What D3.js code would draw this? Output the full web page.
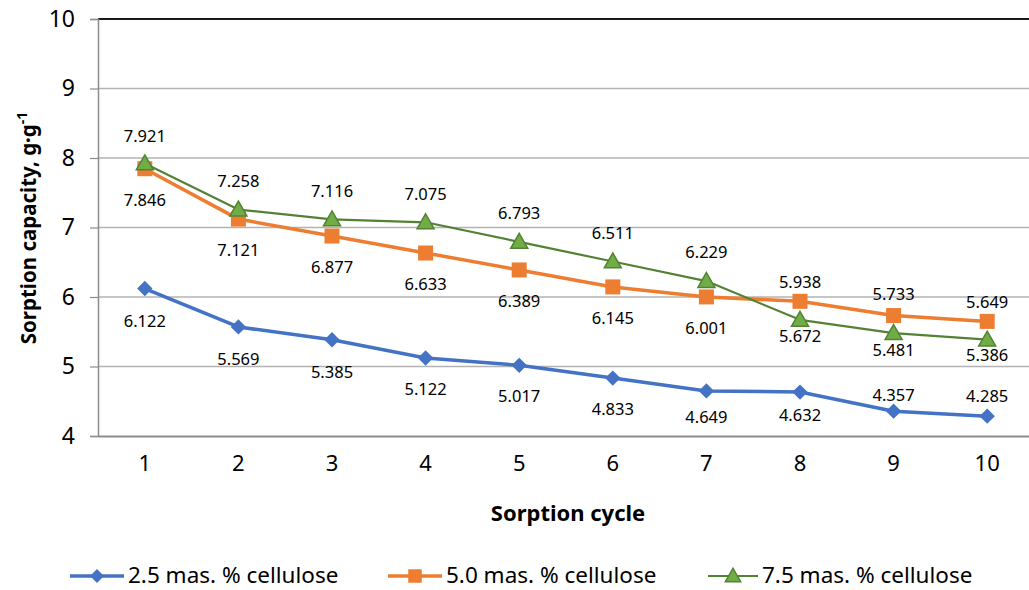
<!DOCTYPE html>
<html>
<head>
<meta charset="utf-8">
<script src="https://cdn.jsdelivr.net/npm/d3@7"></script>
<style>
  body { margin: 0; background: #fff; }
  text { font-family: "Noto Sans", "Open Sans", sans-serif; fill: #000; }
</style>
</head>
<body>
<div id="chart"></div>
<script>
// data
const cycles = [1, 2, 3, 4, 5, 6, 7, 8, 9, 10];
const cellulose25 = [6.122, 5.569, 5.385, 5.122, 5.017, 4.833, 4.649, 4.632, 4.357, 4.285];
const cellulose50 = [7.846, 7.121, 6.877, 6.633, 6.389, 6.145, 6.001, 5.938, 5.733, 5.649];
const cellulose75 = [7.921, 7.258, 7.116, 7.075, 6.793, 6.511, 6.229, 5.672, 5.481, 5.386];
const yTicks = [4, 5, 6, 7, 8, 9, 10];
const seriesNames = ["2.5 mas. % cellulose", "5.0 mas. % cellulose", "7.5 mas. % cellulose"];

// label placement (px, relative to point)
const labelDy = [
  [33, 32, 32, 31, 31, 31, 26, 23, -16, -20],
  [32, 31, 31, 31, 31, 31, 31, -19, -21, -19],
  [-27, -28, -28, -28, -29, -28, -29, 16, 17, 16]
];

const W = 1029, H = 590;
const margin = { top: 19, right: -5, bottom: 154, left: 98 };

const svg = d3.select("#chart")
    .append("svg")
    .attr("width", W)
    .attr("height", H);

const x = d3.scaleBand()
    .domain(cycles)
    .range([margin.left, W - margin.right]);

const y = d3.scaleLinear()
    .domain([4, 10])
    .range([H - margin.bottom, margin.top]);

const cx = d => x(d) + x.bandwidth() / 2;

// grid lines
svg.append("g")
    .selectAll("line")
    .data(yTicks.filter(t => t > 4 && t < 10))
    .enter()
    .append("line")
    .attr("x1", margin.left)
    .attr("x2", W)
    .attr("y1", d => y(d))
    .attr("y2", d => y(d))
    .attr("stroke", "#b3b3b3")
    .attr("stroke-width", 1.5);

// top border (dark)
svg.append("line")
    .attr("x1", margin.left).attr("x2", W)
    .attr("y1", y(10)).attr("y2", y(10))
    .attr("stroke", "#1a1a1a").attr("stroke-width", 2);

// y axis
const yAxis = svg.append("g")
    .attr("transform", `translate(${margin.left},0)`)
    .call(d3.axisLeft(y).tickValues(yTicks).tickSize(8).tickPadding(15).tickFormat(d3.format("d")));
yAxis.select(".domain").attr("stroke", "#8c8c8c").attr("stroke-width", 1.5);
yAxis.selectAll(".tick line").attr("stroke", "#8c8c8c").attr("stroke-width", 1.2);
yAxis.selectAll(".tick text").style("font-size", "23px").attr("fill", "#000");

// x axis
const xAxis = svg.append("g")
    .attr("transform", `translate(0,${y(4)})`)
    .call(d3.axisBottom(x).tickSize(0).tickPadding(19));
xAxis.select(".domain").attr("stroke", "#8c8c8c").attr("stroke-width", 2);
xAxis.selectAll(".tick text").style("font-size", "22px").attr("fill", "#000");

// axis titles
svg.append("text")
    .attr("x", 568)
    .attr("y", 521)
    .attr("text-anchor", "middle")
    .style("font-size", "22px")
    .style("font-weight", "bold")
    .text("Sorption cycle");

const yTitle = svg.append("text")
    .attr("transform", "translate(36,228) rotate(-90)")
    .attr("text-anchor", "middle")
    .style("font-size", "20.5px")
    .style("font-weight", "bold");
yTitle.append("tspan").text("Sorption capacity, g·g");
yTitle.append("tspan").attr("dy", -9).style("font-size", "14px").text("-1");

// series
const colors = ["#4472c4", "#ed7d31", "#548235"];
const widths = [3.5, 3.5, 2.2];
const allSeries = [cellulose25, cellulose50, cellulose75];

const line = d3.line()
    .x((d, i) => cx(cycles[i]))
    .y(d => y(d));

function drawMarker(g, k, px, py, scale) {
    const s = scale || 1;
    if (k === 0) {
        g.append("path")
            .attr("d", d3.symbol(d3.symbolDiamond2, 150 * s * s)())
            .attr("transform", `translate(${px},${py})`)
            .attr("fill", "#4472c4");
    } else if (k === 1) {
        g.append("rect")
            .attr("x", px - 7.5 * s).attr("y", py - 7.5 * s)
            .attr("width", 15 * s).attr("height", 15 * s)
            .attr("fill", "#ed7d31");
    } else {
        const r = 8.5 * s;
        g.append("path")
            .attr("d", `M${px},${py - r}L${px + r},${py + r * 0.75}L${px - r},${py + r * 0.75}Z`)
            .attr("fill", "#70ad47")
            .attr("stroke", "#548235")
            .attr("stroke-width", 1.5);
    }
}

allSeries.forEach((vals, k) => {
    const g = svg.append("g");
    g.append("path")
        .datum(vals)
        .attr("d", line)
        .attr("fill", "none")
        .attr("stroke", colors[k])
        .attr("stroke-width", widths[k])
        .attr("stroke-linejoin", "round");
    vals.forEach((v, i) => drawMarker(g, k, cx(cycles[i]), y(v)));
});

// data labels on top
allSeries.forEach((vals, k) => {
    svg.append("g")
        .selectAll("text")
        .data(vals)
        .enter()
        .append("text")
        .attr("x", (d, i) => cx(cycles[i]))
        .attr("y", (d, i) => y(d) + labelDy[k][i])
        .attr("dy", "0.35em")
        .attr("text-anchor", "middle")
        .style("font-size", "16.5px")
        .attr("fill", "#000")
        .text(d => d3.format(".3f")(d));
});

// legend
const legendX = [70, 388, 708];
const legend = svg.append("g").attr("transform", "translate(0,576)");
seriesNames.forEach((name, k) => {
    const lx = legendX[k];
    const len = k === 2 ? 50 : 54;
    legend.append("line")
        .attr("x1", lx).attr("x2", lx + len)
        .attr("y1", 0).attr("y2", 0)
        .attr("stroke", colors[k])
        .attr("stroke-width", widths[k]);
    drawMarker(legend, k, lx + len / 2, 0, 0.9);
    legend.append("text")
        .attr("x", lx + len + 4)
        .attr("y", 7)
        .style("font-size", "22.5px")
        .text(name);
});
</script>
</body>
</html>
